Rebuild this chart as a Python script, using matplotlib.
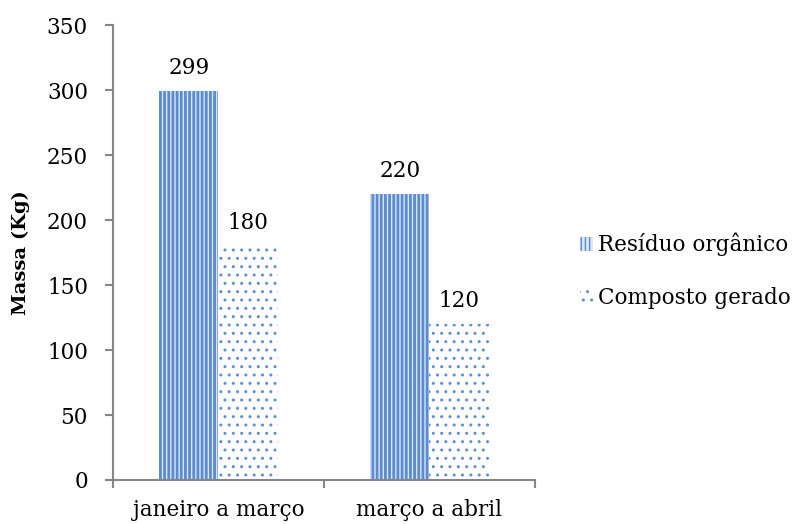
import matplotlib
matplotlib.use("Agg")
import matplotlib.pyplot as plt
import numpy as np

categories = ["janeiro a março", "março a abril"]
residuo = [299, 220]
composto = [180, 120]
series_names = ["Resíduo orgânico", "Composto gerado"]
yticks = [0, 50, 100, 150, 200, 250, 300, 350]

plt.rcParams['font.family'] = ['DejaVu Serif']

fig = plt.figure(figsize=(7.98, 5.24), dpi=100)
ax = fig.add_axes([0.1416, 0.084, 0.5288, 0.868])

blue = '#5B8BD0'
x = np.arange(len(categories))
w = 0.28
plt.rcParams['hatch.linewidth'] = 2.0
b1 = ax.bar(x - w/2, residuo, w, facecolor='#DCE6F5', edgecolor=blue, hatch='||||', linewidth=0, label=series_names[0])
plt.rcParams['hatch.linewidth'] = 1.0
b2 = ax.bar(x + w/2, composto, w, facecolor='white', edgecolor='#5F8FD4', hatch='..', linewidth=0, label=series_names[1])

fs = 15.5
for bars, vals in ((b1, residuo), (b2, composto)):
    for r, v in zip(bars, vals):
        ax.annotate(f"{v}", (r.get_x() + r.get_width()/2, v), xytext=(0, 9), textcoords='offset points',
                    ha='center', va='bottom', fontsize=fs)

ax.set_xlim(-0.5, 1.5)
ax.set_ylim(0, 350)
ax.set_yticks(yticks)
ax.set_xticks([-0.5, 0.5, 1.5], minor=True)
ax.set_xticks(x)
ax.set_xticklabels(categories, fontsize=fs)
ax.tick_params(axis='x', which='major', length=0, pad=14)
ax.tick_params(axis='x', which='minor', length=6, color='#868686', width=1.5)
ax.tick_params(axis='y', length=6, color='#868686', width=1.5, labelsize=fs, pad=12, direction='out')
for s in ['top', 'right']:
    ax.spines[s].set_visible(False)
for s in ['left', 'bottom']:
    ax.spines[s].set_color('#868686')
    ax.spines[s].set_linewidth(1.5)
ax.set_ylabel("Massa (Kg)", fontsize=14, fontweight='bold', labelpad=12)

ax.legend(loc='center left', bbox_to_anchor=(1.06, 0.46), frameon=False, fontsize=fs,
          handlelength=0.6, handleheight=0.6, handletextpad=0.25, labelspacing=1.4)

fig.savefig("out.png", dpi=100)
